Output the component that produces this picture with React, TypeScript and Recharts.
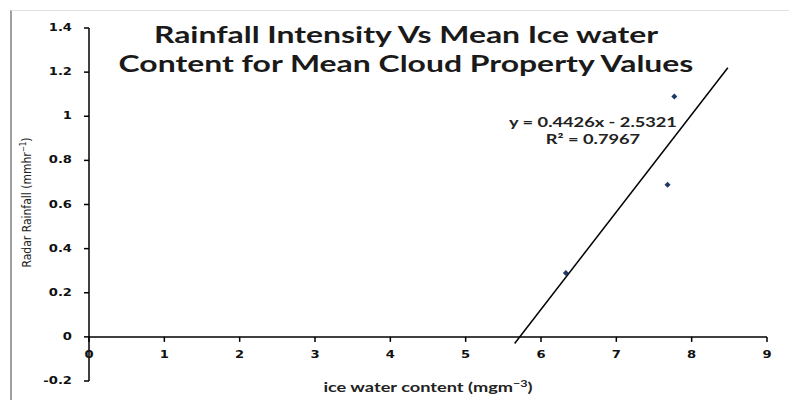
import {
  ScatterChart,
  Scatter,
  XAxis,
  YAxis,
  ReferenceLine,
} from "recharts";

const iceWater = [6.33, 7.68, 7.77];
const rainfall = [0.29, 0.69, 1.09];

// trend line ends
const trendX = [5.65, 8.48];
const trendY = [-0.03, 1.22];

const xTicks = [0, 1, 2, 3, 4, 5, 6, 7, 8, 9];
const yTicks = [-0.2, 0, 0.2, 0.4, 0.6, 0.8, 1, 1.2, 1.4];

const W = 789;
const H = 400;
const TOP = 28;
const BOTTOM_AXIS = 19;
const Y_MIN = -0.2;
const Y_MAX = 1.4;
// the source picture is stretched sideways, text follows it
const STRETCH = 1.4;

const plotH = H - TOP - BOTTOM_AXIS;
const zeroOffset = (plotH * (0 - Y_MIN)) / (Y_MAX - Y_MIN);

const points = iceWater.map((x, i) => ({ x, y: rainfall[i] }));

const tickFont = {
  fontFamily: "'DejaVu Sans', Verdana, sans-serif",
  fontSize: 10.5,
  fontWeight: 700,
  fill: "#111",
};

const labelFont = "Lato, 'Open Sans', sans-serif";

function XTick(props: any) {
  const { x, y, payload } = props;
  const axisY = y - zeroOffset;
  return (
    <g>
      <line x1={x} x2={x} y1={axisY} y2={axisY + 5} stroke="#000" strokeWidth={1.5} />
      <text
        transform={`translate(${x},${axisY + 18}) scale(1.25,1)`}
        textAnchor="middle"
        dominantBaseline="middle"
        {...tickFont}
      >
        {payload.value}
      </text>
    </g>
  );
}

function YTick(props: any) {
  const { x, y, payload } = props;
  return (
    <text
      transform={`translate(${x},${y}) scale(1.25,1)`}
      textAnchor="end"
      dominantBaseline="middle"
      {...tickFont}
    >
      {payload.value}
    </text>
  );
}

function Diamond(props: any) {
  const { cx, cy } = props;
  const r = 3;
  return (
    <polygon
      points={`${cx},${cy - r} ${cx + r},${cy} ${cx},${cy + r} ${cx - r},${cy}`}
      fill="#1f3864"
    />
  );
}

function YLabel(props: any) {
  const { viewBox } = props;
  const cx = 27;
  const cy = viewBox.y + viewBox.height / 2 - 2;
  return (
    <text
      x={cx}
      y={cy}
      transform={`rotate(-90 ${cx} ${cy})`}
      textAnchor="middle"
      dominantBaseline="middle"
      fontFamily="'Liberation Sans Narrow', 'DejaVu Sans Condensed', sans-serif"
      fontSize={12}
      fill="#222"
    >
      Radar Rainfall (mmhr<tspan dy={-4} fontSize={8}>−1</tspan>
      <tspan dy={4}>)</tspan>
    </text>
  );
}

function XLabel(props: any) {
  const { viewBox } = props;
  const cx = viewBox.x + viewBox.width / 2;
  const cy = 389;
  return (
    <text
      transform={`translate(${cx},${cy}) scale(${STRETCH},1)`}
      textAnchor="middle"
      dominantBaseline="middle"
      fontFamily={labelFont}
      fontSize={13}
      fontWeight={700}
      fill="#222"
    >
      ice water content (mgm<tspan dy={-4} fontSize={9}>−3</tspan>
      <tspan dy={4}>)</tspan>
    </text>
  );
}

export default function App() {
  return (
    <div style={{ position: "absolute", left: 0, top: 0, width: W, height: H, background: "#fff", overflow: "hidden" }}>
      <div
        style={{
          position: "absolute",
          left: 10,
          top: 10,
          width: W,
          height: H,
          borderLeft: "2px solid #a0a0a0",
          borderTop: "1px solid #e0e0e0",
        }}
      />
      <ScatterChart
        width={W}
        height={H}
        margin={{ top: TOP, right: 22, left: 29, bottom: 0 }}
      >
        <XAxis
          type="number"
          dataKey="x"
          domain={[0, 9]}
          ticks={xTicks}
          height={BOTTOM_AXIS}
          axisLine={false}
          tickLine={false}
          tickSize={0}
          tickMargin={0}
          tick={<XTick />}
          interval={0}
          label={<XLabel />}
        />
        <YAxis
          type="number"
          dataKey="y"
          domain={[Y_MIN, Y_MAX]}
          ticks={yTicks}
          width={60}
          interval={0}
          stroke="#000"
          strokeWidth={1.5}
          tickSize={5}
          tickMargin={12}
          tick={<YTick />}
          label={<YLabel />}
        />
        <ReferenceLine y={0} stroke="#000" strokeWidth={1.5} />
        <ReferenceLine
          segment={[
            { x: trendX[0], y: trendY[0] },
            { x: trendX[1], y: trendY[1] },
          ]}
          stroke="#000"
          strokeWidth={1.5}
          ifOverflow="visible"
        />
        <Scatter data={points} shape={<Diamond />} isAnimationActive={false} />
      </ScatterChart>
      <div
        style={{
          position: "absolute",
          left: 0,
          width: 812,
          top: 20,
          textAlign: "center",
          fontFamily: labelFont,
          fontWeight: 700,
          fontSize: 22,
          lineHeight: "29px",
          color: "#1a1a1a",
          transform: `scaleX(${STRETCH + 0.05})`,
          transformOrigin: "406px 0",
          whiteSpace: "nowrap",
          pointerEvents: "none",
        }}
      >
        Rainfall Intensity Vs Mean Ice water
        <br />
        Content for Mean Cloud Property Values
      </div>
      <div
        style={{
          position: "absolute",
          left: 493,
          width: 200,
          top: 114,
          textAlign: "center",
          fontFamily: labelFont,
          fontWeight: 700,
          fontSize: 13,
          lineHeight: "17px",
          color: "#222",
          transform: `scaleX(${STRETCH})`,
          transformOrigin: "100px 0",
          whiteSpace: "nowrap",
        }}
      >
        y = 0.4426x - 2.5321
        <br />
        R² = 0.7967
      </div>
    </div>
  );
}
